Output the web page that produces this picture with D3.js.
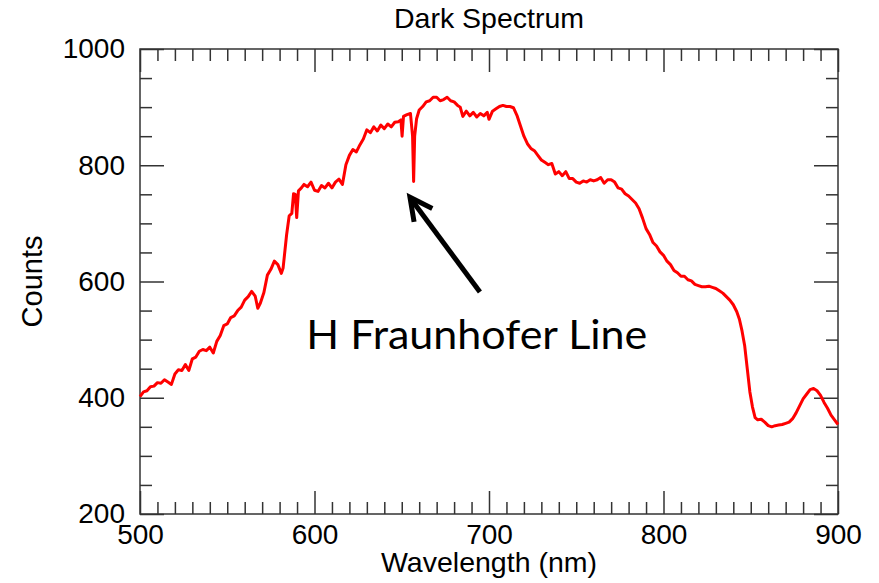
<!DOCTYPE html>
<html>
<head>
<meta charset="utf-8">
<script src="https://cdn.jsdelivr.net/npm/d3@7"></script>
<style>
  body { margin: 0; background: #fff; }
  svg text { font-family: "Liberation Sans", Arial, Helvetica, sans-serif; fill: #000; }
</style>
</head>
<body>
<div id="chart"></div>
<script>
// wavelength (nm) and counts
const wavelength = [
  500, 502, 504, 506, 508, 510, 512, 514, 516, 518, 520, 522, 524, 526, 528, 530, 532, 534, 536, 538,
  540, 542, 544, 546, 548, 550, 552, 554, 556, 558, 560, 562, 564, 566, 567.5, 569, 571, 573, 575, 577,
  579, 581, 582, 584, 585.5, 587, 588, 589, 589.8, 590.8, 592.5, 594, 596, 598, 600, 602, 604, 606, 608, 610,
  612, 614, 616, 618, 620, 622, 624, 626, 628, 630, 632, 634, 636, 638, 640, 642, 644, 646, 648, 649.5,
  650.2, 651, 653, 655, 656.2, 656.8, 657.4, 658.5, 660, 662, 664, 666, 668, 670, 672, 674, 676, 678, 680, 682,
  683.5, 685, 687, 689, 691, 693, 695, 697, 699, 700, 702, 704, 706, 708, 710, 712, 714, 716, 718, 720,
  722, 724, 726, 728, 730, 732, 734, 736, 738, 740, 742, 744, 746, 748, 750, 752, 754, 756, 758, 760,
  762, 764, 766, 768, 770, 772, 774, 776, 778, 780, 782, 784, 786, 788, 790, 792, 794, 796, 798, 800,
  802, 804, 806, 808, 810, 812, 814, 816, 818, 820, 822, 824, 826, 828, 830, 832, 834, 836, 838, 840,
  842, 843.5, 845, 846.5, 848, 849.5, 851, 852.5, 854, 856, 858, 860, 862, 864, 866, 868, 870, 872, 874, 876,
  878, 880, 882, 884, 886, 888, 890, 892, 894, 896, 898, 900
];
const counts = [
  402, 410, 412, 419, 420, 426, 425, 431, 427, 423, 441, 448, 447, 457, 447, 467, 470, 480, 483, 481,
  487, 477, 497, 507, 524, 527, 538, 541, 550, 556, 568, 574, 583, 575, 554, 563, 581, 611, 621, 635,
  629, 614, 623, 680, 713, 717, 751, 750, 710, 756, 761, 767, 763, 771, 757, 755, 765, 761, 769, 761,
  771, 776, 767, 801, 817, 827, 823, 835, 845, 861, 856, 866, 859, 869, 863, 871, 866, 874, 875, 878,
  850, 884, 887, 889, 850, 772, 850, 880, 895, 901, 909, 911, 917, 917, 911, 913, 917, 911, 909, 903,
  900, 884, 893, 885, 891, 883, 889, 885, 891, 879, 893, 897, 901, 903, 901, 901, 899, 886, 868, 850,
  837, 829, 825, 817, 809, 805, 801, 803, 785, 789, 782, 789, 777, 777, 771, 769, 773, 771, 775, 773,
  775, 779, 769, 775, 775, 771, 761, 759, 751, 747, 741, 735, 725, 709, 691, 681, 667, 661, 651, 645,
  635, 629, 619, 615, 609, 609, 603, 601, 595, 593, 591, 591, 592, 590, 588, 584, 580, 574, 568, 560,
  548, 535, 515, 490, 450, 410, 384, 366, 362, 363, 358, 352, 350, 352, 353, 354, 356, 358, 364, 374,
  386, 398, 406, 414, 416, 412, 404, 392, 382, 370, 362, 354
];

const xMajor = [500, 600, 700, 800, 900];
const yMajor = [200, 400, 600, 800, 1000];

const width = 879;
const height = 583;
const margin = { top: 49, left: 140, right: 41, bottom: 69 };
const innerW = width - margin.left - margin.right;
const innerH = height - margin.top - margin.bottom;

const svg = d3.select('#chart').append('svg')
  .attr('width', width)
  .attr('height', height);

const x = d3.scaleLinear().domain([500, 900]).range([0, innerW]);
const y = d3.scaleLinear().domain([200, 1000]).range([innerH, 0]);

const g = svg.append('g').attr('transform', `translate(${margin.left},${margin.top})`);

const xMinor = x.ticks(40).filter(v => !xMajor.includes(v));
const yMinor = y.ticks(16).filter(v => !yMajor.includes(v));

function styleAxis(sel) {
  sel.select('.domain').remove();
  sel.selectAll('line').attr('stroke', '#333').attr('stroke-width', 1.5);
  sel.selectAll('text').style('font-size', '28px').attr('fill', '#000');
}

// bottom
g.append('g').attr('transform', `translate(0,${innerH})`)
  .call(d3.axisBottom(x).tickValues(xMajor).tickSize(-23).tickPadding(10).tickFormat(d3.format('d')))
  .call(styleAxis);
g.append('g').attr('transform', `translate(0,${innerH})`)
  .call(d3.axisBottom(x).tickValues(xMinor).tickSize(-12).tickFormat(''))
  .call(styleAxis);
// top
g.append('g')
  .call(d3.axisTop(x).tickValues(xMajor).tickSize(-23).tickFormat(''))
  .call(styleAxis);
g.append('g')
  .call(d3.axisTop(x).tickValues(xMinor).tickSize(-12).tickFormat(''))
  .call(styleAxis);
// left
g.append('g')
  .call(d3.axisLeft(y).tickValues(yMajor).tickSize(-24).tickPadding(15).tickFormat(d3.format('d')))
  .call(styleAxis);
g.append('g')
  .call(d3.axisLeft(y).tickValues(yMinor).tickSize(-12).tickFormat(''))
  .call(styleAxis);
// right
g.append('g').attr('transform', `translate(${innerW},0)`)
  .call(d3.axisRight(y).tickValues(yMajor).tickSize(-24).tickFormat(''))
  .call(styleAxis);
g.append('g').attr('transform', `translate(${innerW},0)`)
  .call(d3.axisRight(y).tickValues(yMinor).tickSize(-12).tickFormat(''))
  .call(styleAxis);

// frame
g.append('rect')
  .attr('width', innerW)
  .attr('height', innerH)
  .attr('fill', 'none')
  .attr('stroke', '#333')
  .attr('stroke-width', 1.5);

// spectrum
const line = d3.line()
  .x((d, i) => x(wavelength[i]))
  .y(d => y(d));

g.append('path')
  .datum(counts)
  .attr('fill', 'none')
  .attr('stroke', '#ff0000')
  .attr('stroke-width', 3)
  .attr('stroke-linejoin', 'round')
  .attr('d', line);

// titles
svg.append('text')
  .attr('x', margin.left + innerW / 2)
  .attr('y', 28)
  .attr('text-anchor', 'middle')
  .style('font-size', '28.5px')
  .text('Dark Spectrum');

svg.append('text')
  .attr('x', margin.left + innerW / 2)
  .attr('y', 572)
  .attr('text-anchor', 'middle')
  .style('font-size', '28.5px')
  .text('Wavelength (nm)');

svg.append('text')
  .attr('transform', `translate(42,${margin.top + innerH / 2}) rotate(-90)`)
  .attr('text-anchor', 'middle')
  .style('font-size', '29px')
  .text('Counts');

// annotation: arrow pointing at the H line
const tip = [x(654.7), y(745)];
const tail = [x(694.8), y(582)];
const ang = Math.atan2(tail[1] - tip[1], tail[0] - tip[0]);
const headLen = 25;
const spread = 0.47;
const arm1 = [tip[0] + headLen * Math.cos(ang - spread), tip[1] + headLen * Math.sin(ang - spread)];
const arm2 = [tip[0] + headLen * Math.cos(ang + spread), tip[1] + headLen * Math.sin(ang + spread)];

g.append('path')
  .attr('d', `M${tail[0]},${tail[1]}L${tip[0] + 2},${tip[1] + 3}`)
  .attr('stroke', '#000')
  .attr('stroke-width', 5)
  .attr('fill', 'none');
g.append('path')
  .attr('d', `M${arm1[0]},${arm1[1]}L${tip[0]},${tip[1]}L${arm2[0]},${arm2[1]}`)
  .attr('stroke', '#000')
  .attr('stroke-width', 5)
  .attr('stroke-linejoin', 'miter')
  .attr('fill', 'none');

g.append('text')
  .attr('x', x(595.3))
  .attr('y', y(484))
  .attr('textLength', 341)
  .attr('lengthAdjust', 'spacingAndGlyphs')
  .style('font-family', 'Lato, "Open Sans", sans-serif')
  .style('font-size', '41px')
  .text('H Fraunhofer Line');
</script>
</body>
</html>
